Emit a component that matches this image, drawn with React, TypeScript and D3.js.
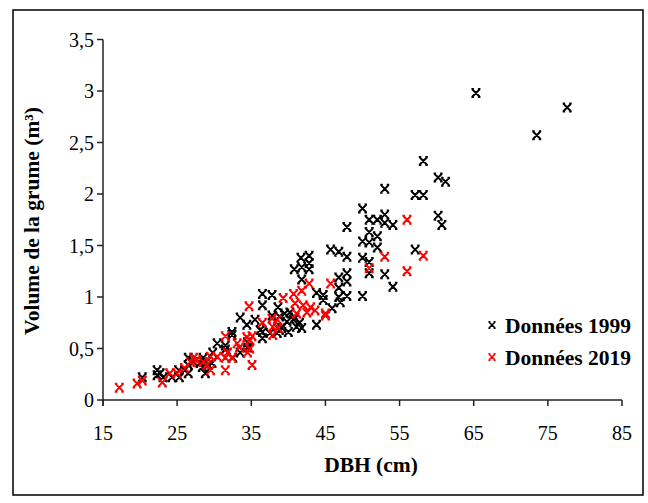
import React from "react";
import * as d3 from "d3";

// DBH (cm) and log volume (m³) for the 1999 inventory
const dbh1999 = [65.3, 77.6, 73.5, 58.2, 60.2, 61.2, 57.1, 58.2, 60.2, 60.7, 57.1, 53.0, 50.0, 50.9, 52.0, 53.0, 53.0, 54.1, 47.9, 50.9, 52.0, 50.0, 50.9, 52.0, 45.7, 46.8, 47.9, 50.0, 50.9, 50.9, 53.0, 54.1, 41.7, 42.8, 42.8, 40.8, 41.8, 42.8, 41.8, 46.8, 47.9, 47.9, 46.8, 47.9, 46.8, 50.0, 44.7, 44.7, 43.8, 45.9, 47.0, 43.8, 41.5, 40.7, 41.8, 39.8, 38.8, 39.5, 38.5, 38.8, 37.8, 38.6, 36.5, 36.5, 33.5, 35.5, 37.8, 34.4, 36.2, 32.4, 32.4, 36.5, 37.5, 36.5, 40.2, 40.9, 41.1, 30.4, 31.5, 31.5, 34.5, 34.5, 33.5, 32.5, 29.8, 28.5, 28.4, 28.8, 26.5, 27.2, 26.5, 29.2, 25.2, 26.0, 22.3, 22.3, 22.7, 23.1, 24.3, 20.3, 25.3, 26.5, 28.1, 29.7, 39.1, 40.0];
const vol1999 = [2.98, 2.84, 2.57, 2.32, 2.16, 2.12, 1.99, 1.99, 1.79, 1.70, 1.46, 2.05, 1.86, 1.75, 1.75, 1.80, 1.72, 1.70, 1.68, 1.63, 1.59, 1.54, 1.53, 1.48, 1.46, 1.44, 1.39, 1.38, 1.34, 1.23, 1.22, 1.10, 1.38, 1.40, 1.33, 1.27, 1.29, 1.27, 1.17, 1.19, 1.23, 1.15, 1.09, 1.01, 1.00, 1.01, 1.02, 0.97, 1.04, 0.89, 0.95, 0.73, 0.75, 0.78, 0.70, 0.76, 0.81, 0.84, 0.65, 0.68, 1.02, 0.90, 1.03, 0.92, 0.80, 0.78, 0.82, 0.73, 0.68, 0.66, 0.63, 0.66, 0.65, 0.60, 0.85, 0.80, 0.71, 0.55, 0.53, 0.49, 0.56, 0.51, 0.46, 0.41, 0.46, 0.41, 0.32, 0.26, 0.41, 0.37, 0.34, 0.34, 0.29, 0.29, 0.29, 0.24, 0.26, 0.22, 0.22, 0.22, 0.22, 0.26, 0.36, 0.36, 0.70, 0.66];

// DBH (cm) and log volume (m³) for the 2019 inventory
const dbh2019 = [56.0, 58.2, 56.0, 53.0, 50.9, 45.7, 42.8, 39.3, 40.7, 41.8, 40.9, 42.0, 43.0, 42.5, 43.6, 45.0, 45.0, 41.1, 38.5, 37.9, 37.9, 34.7, 36.5, 37.8, 38.6, 31.5, 33.1, 33.4, 34.4, 34.8, 35.1, 34.8, 30.4, 31.5, 31.8, 29.5, 34.5, 35.1, 31.5, 29.5, 27.6, 27.2, 26.8, 26.0, 25.0, 24.0, 23.0, 20.3, 19.6, 17.2, 32.4, 28.5, 29.0];
const vol2019 = [1.75, 1.40, 1.25, 1.39, 1.28, 1.13, 1.13, 0.99, 1.03, 1.06, 0.94, 0.92, 0.90, 0.85, 0.87, 0.84, 0.82, 0.84, 0.78, 0.71, 0.63, 0.91, 0.75, 0.79, 0.70, 0.62, 0.55, 0.51, 0.61, 0.58, 0.62, 0.50, 0.42, 0.41, 0.46, 0.42, 0.46, 0.34, 0.29, 0.29, 0.39, 0.41, 0.37, 0.31, 0.26, 0.26, 0.17, 0.19, 0.16, 0.12, 0.41, 0.37, 0.34];

const xTicks = [15, 25, 35, 45, 55, 65, 75, 85];
const yTicks = [0, 0.5, 1, 1.5, 2, 2.5, 3, 3.5];
const seriesNames = ["Données 1999", "Données 2019"];
const seriesColors = ["#000000", "#ff0000"];

const SERIF = "'Liberation Serif', 'Times New Roman', serif";

// Excel-style "x" marker with small caps on each arm
const markerPath =
  "M-3.5,-3.5L3.5,3.5M-3.5,3.5L3.5,-3.5M-4.5,-4L-2,-4M2,-4L4.5,-4M-4.5,4L-2,4M2,4L4.5,4";

export default function App() {
  const x = d3.scaleLinear().domain([15, 85]).range([103, 622]);
  const y = d3.scaleLinear().domain([0, 3.5]).range([400, 39.5]);
  const fmt = (v: number) => String(v).replace(".", ",");

  const series = [
    dbh1999.map((d, i) => [d, vol1999[i]]),
    dbh2019.map((d, i) => [d, vol2019[i]]),
  ];

  return (
    <svg
      width={648}
      height={503}
      style={{ position: "absolute", left: 0, top: 0, background: "#fff" }}
      fontFamily={SERIF}
    >
      <rect x={13} y={10} width={630} height={485} fill="#fff" stroke="#000" strokeWidth={1.5} />

      {/* y axis */}
      <line x1={x(15)} x2={x(15)} y1={y(3.5)} y2={y(0) + 6} stroke="#222" strokeWidth={1.5} />
      {yTicks.map((t) => (
        <g key={"y" + t}>
          <line x1={x(15) - 6} x2={x(15)} y1={y(t)} y2={y(t)} stroke="#222" strokeWidth={1.5} />
          <text x={x(15) - 9} y={y(t)} dy="0.35em" textAnchor="end" fontSize={20}>
            {fmt(t)}
          </text>
        </g>
      ))}

      {/* x axis */}
      <line x1={x(15)} x2={x(85)} y1={y(0)} y2={y(0)} stroke="#222" strokeWidth={1.5} />
      {xTicks.map((t) => (
        <g key={"x" + t}>
          <line x1={x(t)} x2={x(t)} y1={y(0)} y2={y(0) + 6} stroke="#222" strokeWidth={1.5} />
          <text x={x(t)} y={y(0) + 40} textAnchor="middle" fontSize={20}>
            {t}
          </text>
        </g>
      ))}

      {/* axis titles */}
      <text x={371} y={472} textAnchor="middle" fontSize={21.5} fontWeight="bold">
        DBH (cm)
      </text>
      <text
        transform="translate(39,221) rotate(-90)"
        textAnchor="middle"
        fontSize={21.5}
        fontWeight="bold"
      >
        Volume de la grume (m³)
      </text>

      {/* points */}
      {series.map((pts, s) => (
        <g key={"s" + s} stroke={seriesColors[s]} strokeWidth={2} fill="none">
          {pts.map(([d, v], i) => (
            <path key={i} d={markerPath} transform={`translate(${x(d)},${y(v)})`} />
          ))}
        </g>
      ))}

      {/* legend */}
      {seriesNames.map((name, s) => (
        <g key={"l" + s} transform={`translate(492,${325 + s * 32})`}>
          <path d={markerPath} stroke={seriesColors[s]} strokeWidth={2} fill="none" transform="scale(0.8)" />
          <text x={13} y={0} dy="0.35em" fontSize={21.5} fontWeight="bold">
            {name}
          </text>
        </g>
      ))}
    </svg>
  );
}
